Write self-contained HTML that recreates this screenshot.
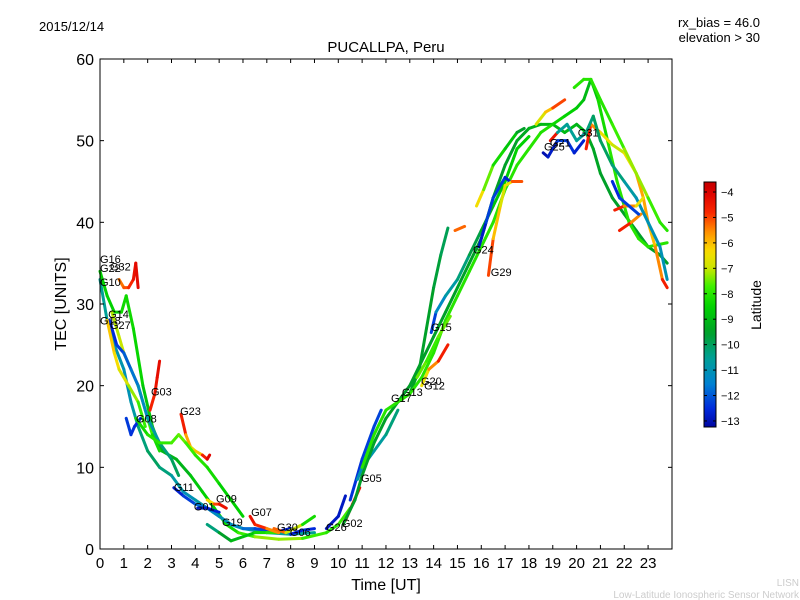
<!DOCTYPE html>
<html><head><meta charset="utf-8"><style>
body{margin:0;background:#fff;}
svg{display:block;font-family:"Liberation Sans","DejaVu Sans",sans-serif;}
</style></head><body>
<svg id="chart" width="800" height="600" viewBox="0 0 800 600">
<text x="39" y="31" font-size="13">2015/12/14</text>
<text x="760" y="27" font-size="13" text-anchor="end">rx_bias = 46.0</text>
<text x="760" y="42" font-size="13" text-anchor="end">elevation &gt; 30</text>
<text x="386" y="52" font-size="15" text-anchor="middle">PUCALLPA, Peru</text>
<g id="plot"></g>
<rect x="100" y="59" width="572" height="490" fill="none" stroke="#000" stroke-width="1"/>
<g id="axes"></g>
<text x="386" y="590" font-size="16" text-anchor="middle">Time [UT]</text>
<text transform="translate(66,304) rotate(-90)" font-size="16" text-anchor="middle">TEC [UNITS]</text>
<defs><linearGradient id="cbg" x1="0" y1="1" x2="0" y2="0"></linearGradient></defs>
<rect x="704" y="182" width="12" height="245" fill="url(#cbg)" stroke="#000" stroke-width="1"/>
<g id="cbticks"></g>
<text transform="translate(761,305) rotate(-90)" font-size="14" text-anchor="middle">Latitude</text>
<text x="799" y="586" font-size="10" fill="#ccc" text-anchor="end">LISN</text>
<text x="799" y="598" font-size="10" fill="#ccc" text-anchor="end">Low-Latitude Ionospheric Sensor Network</text>
</svg>
<script>
const xTicks=[0,1,2,3,4,5,6,7,8,9,10,11,12,13,14,15,16,17,18,19,20,21,22,23];
const yTicks=[0,10,20,30,40,50,60];
const cbTicks=[-4,-5,-6,-7,-8,-9,-10,-11,-12,-13];
// each track: [hour, TEC, latitude]
const tracks=[
[[0,33,-10.5],[0.3,28,-10.5],[0.6,25,-10.8],[1,22,-11],[1.3,18,-11],[1.6,15,-10.5],[2,12,-10],[2.5,10,-10],[3,9,-10.5],[3.5,7,-11],[4,6,-11],[4.5,5,-10.5],[5,4,-10.5],[5.5,3,-10.5],[6,2.5,-10.5],[7,2,-10.5],[8,1.8,-10.5],[9,2,-10.5]],
[[0,34,-8.5],[0.3,31,-8.5],[0.6,29,-8.5],[0.9,29,-8.3],[1.1,31,-8.3],[1.4,27,-8.3],[1.8,20,-8.5],[2.2,15,-9],[2.6,12,-9],[3.2,11,-9.2],[3.8,9,-9],[4.3,7,-8.5],[4.8,5,-8.5],[5.3,3,-8.5],[5.8,2,-8],[6.5,1.5,-7.5],[7.5,1.2,-7],[8.5,1.3,-7.5],[9.5,2,-8],[10,3,-8],[10.5,5,-7.5]],
[[0.8,33,-5.5],[1,32,-5.2],[1.2,32,-5],[1.4,33,-4.5],[1.5,35,-4.2],[1.6,32,-4.2]],
[[0.5,29,-7.2],[0.8,26,-7],[1,24,-7],[1.3,22,-7.3],[1.6,20,-7.5],[1.9,17,-7.5],[2.2,14,-8],[2.5,12,-8.5]],
[[0.4,28,-12.5],[0.7,25,-12.5],[1,24,-12],[1.3,22,-11.8],[1.6,20,-11.5],[2,16,-11],[2.5,13,-10.5],[3,11,-10],[3.3,9,-10]],
[[0.3,28,-6],[0.6,24,-6.2],[0.8,22,-6.5],[1.2,20,-7],[1.6,18,-7.5],[1.9,15,-8]],
[[1.1,16,-12.3],[1.3,14,-12.3],[1.45,15,-12.5],[1.7,16,-12.5]],
[[2.1,17,-4.8],[2.3,19,-4.5],[2.4,21,-4.3],[2.5,23,-4.2]],
[[3.4,16.5,-4.2],[3.6,14,-5],[3.8,12.5,-6.5],[4,12,-7],[4.3,11.5,-5],[4.5,11,-4.2],[4.6,11.5,-4]],
[[1.5,16,-8.5],[2,14,-8],[2.5,13,-8],[3,13,-7.8],[3.3,14,-7.5],[3.6,13,-7.5],[4,11.5,-8],[4.5,10,-8],[5,8,-8.5],[5.5,6,-8.5],[6,4,-8.5]],
[[3.1,7.5,-12.8],[3.5,6.5,-12.5],[4,5.5,-12],[4.5,5,-11.5],[5,4,-11],[5.5,3,-11],[6,2.5,-11.5],[6.5,2.5,-12],[7,2.3,-12.3],[7.5,2.2,-12.5],[8,2.5,-12.8]],
[[4.1,5,-12.8],[4.5,5,-12.8],[5,4.5,-12.5]],
[[4.5,6,-7],[4.8,5.5,-5.5],[5,5.5,-4.5],[5.3,5,-4.2]],
[[4.5,3,-10.5],[5,2,-10],[5.5,1,-9],[6,1.5,-9],[6.5,2,-8.5],[7,2,-8],[7.5,2,-8]],
[[6.3,4,-4.2],[6.5,3,-4.5],[7,2.5,-5],[7.5,2,-6]],
[[7.3,2.5,-4.5],[7.8,2,-6],[8.5,3,-8],[9,4,-8.5]],
[[8,1.8,-12.8],[8.5,2.3,-12.5],[9,2.5,-12.5]],
[[9.5,2.5,-12.8],[10,4,-12.8],[10.3,6.5,-12.8]],
[[10.3,3.5,-4.2],[10.6,5.5,-4.3],[10.9,7.5,-4.5]],
[[10.5,6,-12.5],[11,11,-12.3],[11.5,15,-12.2],[11.8,17,-12.2]],
[[10.8,8.5,-11],[11,10,-11],[11.5,12,-10.8],[12,14,-10.5],[12.5,17,-10]],
[[13,19,-9.5],[13.4,22,-9.5],[13.7,27,-9.5],[14,32,-9.5],[14.3,36,-9.8],[14.6,39.3,-10]],
[[10.2,3,-9.5],[10.7,6,-9.5],[11,9,-9.5],[11.5,13,-9.5],[12,16,-9.5],[12.5,18,-9.5],[13,20,-9.5],[13.5,23,-9.5],[14,26,-9.5],[14.5,29,-9.5],[15,32,-9.5],[15.5,35,-9.5],[16,38,-9.5],[16.5,43,-9.5],[17,47,-9.5],[17.5,50,-9.5],[18,51.5,-9.2],[18.5,52,-9],[19,52,-9],[19.5,51,-9],[20,52,-9],[20.4,51,-9.3],[20.7,49,-9.3],[21,46,-9.5],[21.5,43,-9.5],[22,41,-9.5],[22.5,39,-9.5],[23,37,-9.5],[23.5,36,-9.5],[23.8,35,-9.5]],
[[11,10,-8],[11.5,14,-8],[12,17,-8],[12.5,18,-8],[13,19,-8],[13.5,21,-8],[14,24,-8],[14.5,28,-8],[15,31,-8],[15.5,34,-8],[16,37,-8],[16.5,40,-8],[17,44,-8],[17.5,47,-8],[18,49,-8],[18.5,51,-8],[19,52,-8.2],[19.5,53,-8.5],[20,54,-8.5],[20.3,55,-9],[20.6,57.5,-9],[20.9,55,-8.5],[21.3,50,-8],[21.7,45,-8],[22.2,40,-8],[22.6,38,-8],[23,37,-8],[23.8,37.5,-8]],
[[13.5,20,-7],[13.8,22,-6],[14.2,23,-5],[14.6,25,-4.2]],
[[13.3,21,-7.5],[13.7,23,-7.5],[14.2,26,-8],[14.7,28.5,-7]],
[[13.9,26.5,-13],[14.1,29,-11.5],[14.5,31,-11],[15,33,-10.5],[15.5,36,-10],[16,39,-9.5],[16.5,42,-9],[17,45,-8.5],[17.5,49,-8.5],[18,50.5,-8.5]],
[[15.9,37,-13],[16.2,40,-12.5],[16.5,43,-12],[17,45.5,-12.5],[17.2,45,-12.8]],
[[15.8,42,-5.8],[16.1,44,-7],[16.5,47,-8],[17,49,-8.5],[17.5,51,-9],[17.8,51.5,-10]],
[[16.3,33.5,-4.5],[16.5,38,-5.5],[16.8,42,-6.5],[17,44.5,-7],[17.3,45,-6],[17.7,45,-4.2]],
[[14.9,39,-6],[15.3,39.5,-4.5]],
[[18.6,48.5,-13],[18.8,48,-13],[19.2,50,-12.5],[19.6,50,-12],[19.9,48.5,-12.8],[20.3,50,-12.5]],
[[18.9,50,-4.3],[19.2,51,-4.5]],
[[18.3,52,-7],[18.7,53.5,-6.5],[19,54,-5.5],[19.5,55,-4.5]],
[[20.4,49,-4.2],[20.6,52,-5],[21,51,-6],[21.5,49.5,-7],[22,48.5,-7],[22.5,46,-6],[22.8,43,-5.5],[23,40,-6],[23.3,37,-6],[23.6,33,-5],[23.8,32,-4.2]],
[[19.2,51,-10.5],[19.6,52,-10.5],[20,50,-10.5],[20.4,51,-10.5],[20.7,53,-10],[21,50,-10],[21.5,47,-10],[22,45,-10.5],[22.5,43,-11],[23,40,-11],[23.5,37,-11],[23.8,33,-11]],
[[19.9,56.5,-8],[20.3,57.5,-8],[20.6,57.5,-8],[21,55,-8],[21.5,52,-8],[22,49,-7.5],[22.5,46,-7],[23,43,-7.5],[23.5,40,-8],[23.8,39,-8]],
[[21.6,41.5,-4.2],[22,42,-5],[22.5,42,-6],[22.8,43,-7]],
[[21.8,39,-4.2],[22.3,40,-5],[22.7,41,-6]],
[[21.5,45,-13],[21.8,43,-12],[22.6,41,-12.5]]
];
const labelNames=["G16","G22","G32","G10","G14","G18","G27","G03","G08","G23","G11","G09","G01","G19","G07","G30","G06","G26","G02","G05","G17","G13","G20","G12","G15","G24","G29","G25","G21","G31"];
const labelHours=[0,0,0.42,0,0.34,0,0.42,2.14,1.51,3.36,3.1,4.87,3.94,5.12,6.34,7.43,7.97,9.48,10.15,10.95,12.21,12.67,13.47,13.6,13.89,15.65,16.4,18.63,18.88,20.05];
const labelTec=[35.5,34.4,34.6,32.7,28.8,28,27.4,19.3,16,16.9,7.6,6.2,5.2,3.3,4.5,2.7,2.1,2.7,3.2,8.7,18.5,19.2,20.6,20,27.2,36.7,33.9,49.3,49.8,51];

const X=h=>100+h*23.83, Y=v=>549-v*8.167;
const cbY=l=>192+(-4-l)*25.44;
const stops=[[-13.3,[0,0,150]],[-12.5,[0,40,220]],[-11.5,[0,130,210]],[-10.5,[0,160,150]],[-9.5,[0,160,40]],[-8.5,[0,210,0]],[-7.7,[60,240,0]],[-7,[200,230,0]],[-6.3,[250,220,0]],[-5.6,[255,150,0]],[-4.8,[250,40,0]],[-4,[220,0,0]],[-3.5,[190,0,0]]];
function col(l){
  if(l<=stops[0][0])return 'rgb('+stops[0][1]+')';
  for(let i=1;i<stops.length;i++){if(l<=stops[i][0]){const a=stops[i-1],b=stops[i],t=(l-a[0])/(b[0]-a[0]);return 'rgb('+a[1].map((c,k)=>Math.round(c+(b[1][k]-c)*t)).join(',')+')';}}
  return 'rgb('+stops[stops.length-1][1]+')';
}
const NS='http://www.w3.org/2000/svg';
function mk(tag,attrs,parent){const e=document.createElementNS(NS,tag);for(const k in attrs)e.setAttribute(k,attrs[k]);parent.appendChild(e);return e;}
const plot=document.getElementById('plot');
tracks.forEach((tr,ti)=>{
  const g=mk('g',{},plot);
  
  
  for(let i=1;i<tr.length;i++){
    const a=tr[i-1],b=tr[i];
    const ln=mk('line',{x1:X(a[0]),y1:Y(a[1]),x2:X(b[0]),y2:Y(b[1]),stroke:col((a[2]+b[2])/2),'stroke-width':3,'stroke-linecap':'round'},g);
    
    
  }
});
labelNames.forEach((n,i)=>{
  const t=mk('text',{x:X(labelHours[i]),y:Y(labelTec[i])+4,'font-size':11},plot);
  
  
  t.textContent=n;
});
const axes=document.getElementById('axes');
xTicks.forEach(h=>{
  const x=X(h);
  const a=mk('line',{x1:x,y1:549,x2:x,y2:545,stroke:'#000'},axes);
  
  
  mk('line',{x1:x,y1:59,x2:x,y2:63,stroke:'#000'},axes);
  const t=mk('text',{x:x,y:568,'font-size':15,'text-anchor':'middle'},axes);
  
  
  t.textContent=h;
});
yTicks.forEach(v=>{
  const y=Y(v);
  const a=mk('line',{x1:100,y1:y,x2:104,y2:y,stroke:'#000'},axes);
  
  
  mk('line',{x1:672,y1:y,x2:668,y2:y,stroke:'#000'},axes);
  const t=mk('text',{x:94,y:y+6,'font-size':16,'text-anchor':'end'},axes);
  
  
  t.textContent=v;
});
const grad=document.getElementById('cbg');
for(let i=0;i<=40;i++){const l=-13.2+i*(9.6/40);mk('stop',{offset:(i/40),'stop-color':col(l)},grad);}
const cbt=document.getElementById('cbticks');
cbTicks.forEach(l=>{
  const y=cbY(l);
  mk('line',{x1:704,y1:y,x2:707,y2:y,stroke:'#000'},cbt);
  mk('line',{x1:716,y1:y,x2:713,y2:y,stroke:'#000'},cbt);
  const t=mk('text',{x:721,y:y+4,'font-size':11},cbt);
  
  
  t.textContent='\u2212'+Math.abs(l);
});
</script>
</body></html>
